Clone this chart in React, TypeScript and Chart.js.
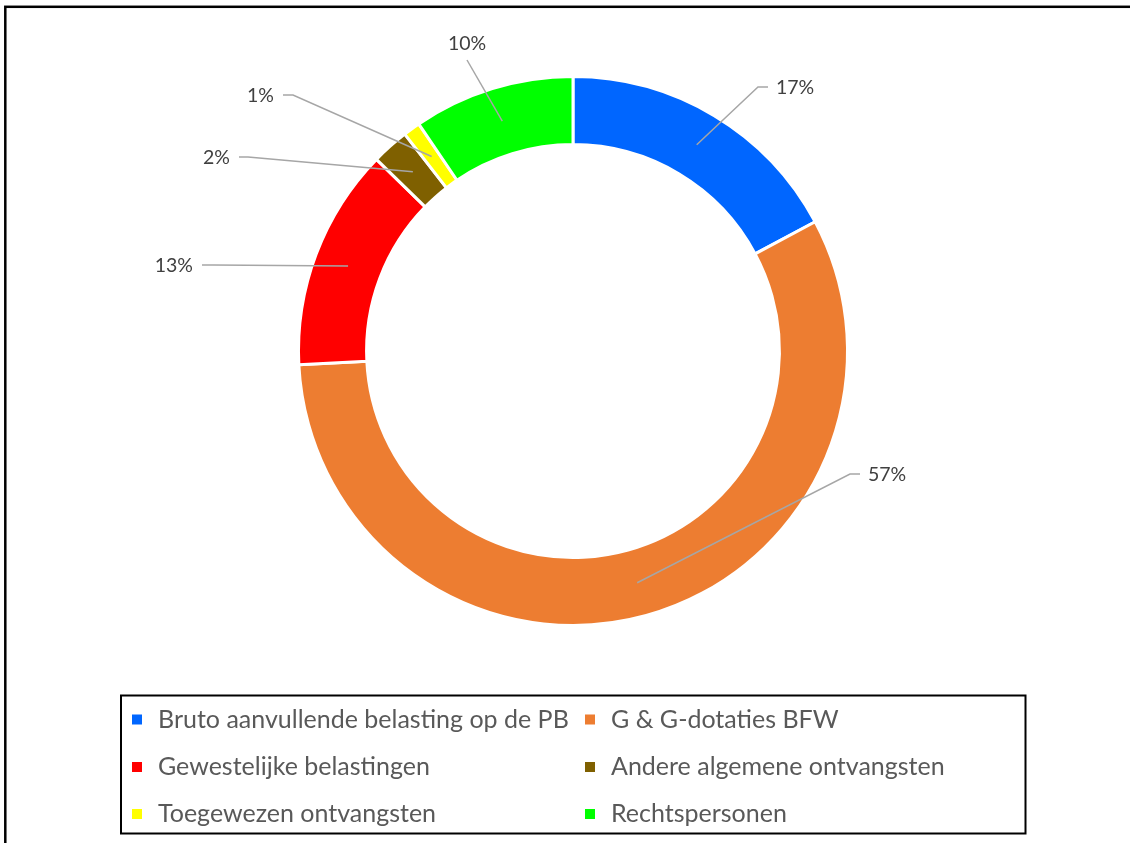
import React, { useEffect, useRef } from "react";
import { Chart, registerables } from "chart.js";

Chart.register(...registerables);

const categories = [
  "Bruto aanvullende belasting op de PB",
  "G & G-dotaties BFW",
  "Gewestelijke belastingen",
  "Andere algemene ontvangsten",
  "Toegewezen ontvangsten",
  "Rechtspersonen",
];
const shares = [17.2, 57.0, 13.1, 2.2, 1.0, 9.5];
const colors = ["#0066FF", "#ED7D31", "#FF0000", "#7F6000", "#FFFF00", "#00FF00"];

// label callout style: elbow offset from chart centre, horizontal arm length
const calloutStyle = [
  { elbow: [185, -264], arm: 10 },
  { elbow: [277, 123], arm: 10 },
  { elbow: [-360, -86], arm: -11 },
  { elbow: [-325, -194], arm: -9 },
  { elbow: [-280, -256], arm: -10 },
  { elbow: [-106, -291], arm: 0 },
];

const FONT = "Lato, 'Noto Sans', sans-serif";

const calloutPlugin = {
  id: "callouts",
  afterDatasetsDraw(chart: any) {
    const ctx = chart.ctx;
    const meta = chart.getDatasetMeta(0);
    const data = chart.data.datasets[0].data as number[];
    const total = data.reduce((a, b) => a + b, 0);
    ctx.save();
    meta.data.forEach((arc: any, i: number) => {
      const p = arc.getProps(["x", "y", "startAngle", "endAngle", "innerRadius", "outerRadius"], true);
      const mid = (p.startAngle + p.endAngle) / 2;
      const r = (p.innerRadius + p.outerRadius) / 2;
      const sx = p.x + Math.cos(mid) * r;
      const sy = p.y + Math.sin(mid) * r;
      const st = calloutStyle[i];
      const ex = p.x + st.elbow[0];
      const ey = p.y + st.elbow[1];
      const ax = ex + st.arm;
      ctx.strokeStyle = "#A6A6A6";
      ctx.lineWidth = 1.5;
      ctx.beginPath();
      ctx.moveTo(sx, sy);
      ctx.lineTo(ex, ey);
      if (st.arm !== 0) ctx.lineTo(ax, ey);
      ctx.stroke();
      const txt = Math.round((data[i] / total) * 100) + "%";
      ctx.fillStyle = "#404040";
      ctx.font = "19.5px " + FONT;
      ctx.textBaseline = "middle";
      if (st.arm > 0) {
        ctx.textAlign = "left";
        ctx.fillText(txt, ax + 8, ey + 1);
      } else if (st.arm < 0) {
        ctx.textAlign = "right";
        ctx.fillText(txt, ax - 9, ey + 1);
      } else {
        ctx.textAlign = "center";
        ctx.fillText(txt, ex, ey - 16);
      }
    });
    ctx.restore();
  },
};

const legendStyle = {
  box: [121, 695.5, 904.5, 138],
  cols: [132, 585],
  rows: [719.5, 767, 814],
  textGap: 26,
};

const framePlugin = {
  id: "frameAndLegend",
  afterDraw(chart: any) {
    const ctx = chart.ctx;
    const ds = chart.data.datasets[0];
    ctx.save();
    ctx.strokeStyle = "#000000";
    ctx.lineWidth = 2.5;
    ctx.strokeRect(5.3, 6.8, 1300, 1000);
    ctx.lineWidth = 2;
    const b = legendStyle.box;
    ctx.strokeRect(b[0], b[1], b[2], b[3]);
    ctx.font = "25px " + FONT;
    ctx.textBaseline = "middle";
    ctx.textAlign = "left";
    chart.data.labels.forEach((lab: string, i: number) => {
      const col = i % 2;
      const row = Math.floor(i / 2);
      const x = legendStyle.cols[col];
      const y = legendStyle.rows[row];
      ctx.fillStyle = ds.backgroundColor[i];
      ctx.fillRect(x, y - 5, 10, 10);
      ctx.fillStyle = "#595959";
      ctx.fillText(lab, x + legendStyle.textGap, y);
    });
    ctx.restore();
  },
};

export default function App() {
  const ref = useRef<HTMLCanvasElement>(null);
  useEffect(() => {
    if (!ref.current) return;
    const chart = new Chart(ref.current, {
      type: "doughnut",
      data: {
        labels: categories,
        datasets: [
          {
            data: shares,
            backgroundColor: colors,
            borderColor: "#FFFFFF",
            borderWidth: 3,
          },
        ],
      },
      options: {
        responsive: false,
        animation: false,
        devicePixelRatio: 1,
        cutout: "75.2%",
        layout: { padding: { left: 297, right: 281, top: 75, bottom: 216 } },
        plugins: {
          legend: { display: false },
          tooltip: { enabled: false },
        },
      },
      plugins: [calloutPlugin, framePlugin],
    });
    return () => chart.destroy();
  }, []);
  return (
    <div style={{ position: "absolute", left: 0, top: 0, width: 1130, height: 843, background: "#fff" }}>
      <canvas ref={ref} width={1130} height={843} />
    </div>
  );
}
